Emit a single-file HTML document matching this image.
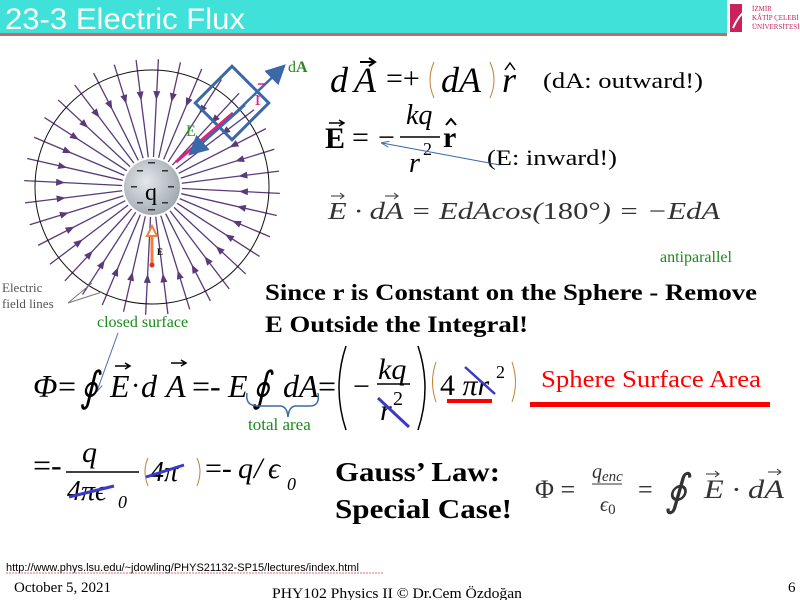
<!DOCTYPE html>
<html><head><meta charset="utf-8"><style>
html,body{margin:0;padding:0;background:#fff;width:800px;height:600px;overflow:hidden}
svg{display:block}
.s{font-family:"Liberation Serif",serif}
.a{font-family:"Liberation Sans",sans-serif}
.i{font-style:italic}
</style></head><body>
<svg id="sv" width="800" height="600" viewBox="0 0 800 600" xmlns="http://www.w3.org/2000/svg">
<defs>
<radialGradient id="g" cx="0.4" cy="0.4" r="0.7"><stop offset="0" stop-color="#e4e8ec"/><stop offset="1" stop-color="#9aa2aa"/></radialGradient>
<marker id="ab" markerWidth="8" markerHeight="8" refX="7" refY="4" orient="auto"><path d="M0,0 L8,4 L0,8 z" fill="#3a68a8"/></marker>
<marker id="at" markerWidth="8" markerHeight="8" refX="7" refY="4" orient="auto"><path d="M0,1 L8,4 L0,7" fill="none" stroke="#4a6fa8"/></marker>
</defs>
<rect x="0" y="0" width="727" height="33" fill="#3fe1d8"/>
<rect x="0" y="33" width="727" height="3" fill="#c46a6a"/>
<text x="5" y="29" class="a" font-size="30" fill="#fff" textLength="240" lengthAdjust="spacingAndGlyphs">23-3  Electric Flux</text>
<rect x="727" y="0" width="73" height="36" fill="#fff"/>
<path d="M730,4 L742,4 L742,32 L730,32z" fill="#c8245a"/>
<path d="M733,28 Q738,16 748,8" stroke="#fff" stroke-width="2" fill="none"/>
<text x="752" y="11" class="s" font-size="7" fill="#c8245a">İZMİR</text>
<text x="752" y="20" class="s" font-size="7" fill="#c8245a">KÂTİP ÇELEBİ</text>
<text x="752" y="29" class="s" font-size="7" fill="#c8245a">ÜNİVERSİTESİ</text>
<g id="fl"></g>
<circle cx="152" cy="187" r="117" fill="none" stroke="#111" stroke-width="1"/>
<circle cx="152" cy="187" r="28" fill="url(#g)"/>
<g fill="#333"><rect x="148" y="162" width="7" height="1.5"/><rect x="137" y="170" width="6" height="1.5"/><rect x="162" y="170" width="6" height="1.5"/><rect x="131" y="186" width="6" height="1.5"/><rect x="168" y="186" width="6" height="1.5"/><rect x="137" y="202" width="6" height="1.5"/><rect x="162" y="202" width="6" height="1.5"/><rect x="148" y="209" width="7" height="1.5"/></g>
<text x="145" y="200" class="s" font-size="24">q</text>
<line x1="152" y1="265" x2="152" y2="232" stroke="#f08040" stroke-width="3"/>
<path d="M147,236 L152,226 L157,236z" fill="#fff" stroke="#f08040" stroke-width="2"/>
<circle cx="152" cy="265" r="2.5" fill="#e03020"/>
<text x="157" y="255" class="s" font-size="9" font-weight="bold">E</text>
<text x="2" y="292" class="s" font-size="13" fill="#555">Electric</text>
<text x="2" y="308" class="s" font-size="13" fill="#555">field lines</text>
<line x1="68" y1="303" x2="92" y2="283" stroke="#777"/>
<line x1="68" y1="303" x2="102" y2="292" stroke="#777"/>
<g transform="rotate(-45 232 103)"><rect x="206" y="77" width="52" height="52" fill="none" stroke="#3a68a8" stroke-width="3"/></g>
<line x1="176" y1="162" x2="233" y2="113" stroke="#e0207a" stroke-width="3"/>
<line x1="245" y1="105" x2="190" y2="154" stroke="#3a68a8" stroke-width="2.5" marker-end="url(#ab)"/>
<line x1="230" y1="118" x2="284" y2="66" stroke="#3a68a8" stroke-width="2.5" marker-end="url(#ab)"/>
<text x="288" y="72" class="s" font-size="16" fill="#2a8a20">d<tspan font-weight="bold">A</tspan></text>
<text x="255" y="105" class="s" font-size="22" fill="#e0207a">r</text>
<path d="M258,84 L266,84" stroke="#e0207a" stroke-width="1.5"/>
<text x="186" y="136" class="s" font-size="16" fill="#2a9a20">E</text>
<text x="97" y="327" class="s" font-size="16" fill="#1a8a1a">closed surface</text>
<line x1="118" y1="333" x2="97" y2="391" stroke="#4a6fa8" stroke-width="1" marker-end="url(#at)"/>
<!-- top eqs -->
<text x="330" y="92" class="s i" font-size="36">d</text>
<text x="354" y="92" class="s i" font-size="36">A</text>
<path d="M360,62 L374,62 M369,58 L375,62 L369,66" stroke="#000" stroke-width="2" fill="none"/>
<text x="386" y="88" class="s" font-size="30">=+</text>
<path d="M434,62 Q426,80 434,98 M490,62 Q498,80 490,98" stroke="#c08030" stroke-width="1" fill="none"/>
<text x="441" y="92" class="s i" font-size="36">dA</text>
<text x="502" y="92" class="s i" font-size="36">r</text>
<path d="M505,70 L510,63 L515,70" stroke="#000" stroke-width="1.5" fill="none"/>
<text x="543" y="88" class="s" font-size="22" textLength="160" lengthAdjust="spacingAndGlyphs">(dA: outward!)</text>
<text x="325" y="148" class="s" font-size="30" font-weight="bold">E</text>
<path d="M329,123 L343,123 M339,120 L344,123 L339,126" stroke="#000" stroke-width="1.5" fill="none"/>
<text x="352" y="147" class="s" font-size="30">=</text>
<text x="378" y="147" class="s" font-size="30">−</text>
<text x="406" y="124" class="s i" font-size="28">kq</text>
<line x1="400" y1="137" x2="440" y2="137" stroke="#000" stroke-width="1.5"/>
<text x="409" y="172" class="s i" font-size="28">r</text>
<text x="423" y="155" class="s" font-size="18">2</text>
<text x="443" y="147" class="s" font-size="30" font-weight="bold">r</text>
<path d="M446,125 L451,119 L456,125" stroke="#000" stroke-width="2" fill="none"/>
<text x="487" y="165" class="s" font-size="22" textLength="130" lengthAdjust="spacingAndGlyphs">(E: inward!)</text>
<line x1="500" y1="165" x2="382" y2="143" stroke="#3a68a8" stroke-width="1" marker-end="url(#at)"/>
<text x="328" y="219" class="s i" font-size="24" fill="#333" textLength="392" lengthAdjust="spacingAndGlyphs">E · dA = EdAcos(<tspan font-style="normal">180°</tspan>) = −EdA</text>
<path d="M331,196 L343,196 M340,193 L344,196 L340,199 M385,196 L397,196 M394,193 L398,196 L394,199" stroke="#333" stroke-width="1" fill="none"/>
<text x="660" y="262" class="s" font-size="16" fill="#1a8a1a">antiparallel</text>
<text x="265" y="300" class="s" font-size="23" font-weight="bold" textLength="492" lengthAdjust="spacingAndGlyphs">Since r is Constant on the Sphere - Remove</text>
<text x="265" y="332" class="s" font-size="23" font-weight="bold" textLength="263" lengthAdjust="spacingAndGlyphs">E Outside the Integral!</text>
<!-- flux row -->
<text x="33" y="397" class="s i" font-size="32">Φ</text>
<text x="58" y="397" class="s" font-size="32">=</text>
<text x="80" y="401" class="s i" font-size="42" textLength="18" lengthAdjust="spacingAndGlyphs">∮</text>
<text x="110" y="397" class="s i" font-size="32">E</text>
<text x="131" y="395" class="s" font-size="28">·</text>
<text x="141" y="397" class="s i" font-size="32">d</text>
<text x="166" y="397" class="s i" font-size="32">A</text>
<path d="M115,366 L129,366 M125,363 L130,366 L125,369 M171,363 L185,363 M181,360 L186,363 L181,366" stroke="#000" stroke-width="1.5" fill="none"/>
<text x="192" y="397" class="s" font-size="32">=-</text>
<text x="228" y="397" class="s i" font-size="32">E</text>
<text x="252" y="401" class="s i" font-size="42" textLength="18" lengthAdjust="spacingAndGlyphs">∮</text>
<text x="283" y="397" class="s i" font-size="32">dA</text>
<text x="318" y="397" class="s" font-size="32">=</text>
<path d="M247,393 Q245,406 258,406 L280,406 Q287,406 288,417 Q289,406 296,406 L310,406 Q320,406 318,393" stroke="#3a68a8" stroke-width="1.5" fill="none"/>
<text x="248" y="430" class="s" font-size="17" fill="#1a8a1a">total area</text>
<path d="M346,346 Q332,388 346,430" stroke="#000" stroke-width="1.5" fill="none"/>
<path d="M418,346 Q432,388 418,430" stroke="#000" stroke-width="1.5" fill="none"/>
<text x="353" y="396" class="s" font-size="30">−</text>
<text x="378" y="379" class="s i" font-size="30">kq</text>
<line x1="377" y1="384" x2="410" y2="384" stroke="#000" stroke-width="1.5"/>
<text x="380" y="420" class="s i" font-size="30">r</text>
<text x="393" y="405" class="s" font-size="20">2</text>
<line x1="378" y1="398" x2="409" y2="427" stroke="#3a3ac8" stroke-width="3"/>
<path d="M436,362 Q429,382 436,402 M512,362 Q519,382 512,402" stroke="#c08030" stroke-width="1" fill="none"/>
<text x="440" y="395" class="s" font-size="30">4 <tspan class="i">πr</tspan></text>
<text x="496" y="378" class="s" font-size="18">2</text>
<line x1="465" y1="367" x2="495" y2="394" stroke="#3a3ac8" stroke-width="2.5"/>
<rect x="447" y="399" width="45" height="4" fill="#f00"/>
<text x="541" y="387" class="s" font-size="24" fill="#f00" textLength="220" lengthAdjust="spacingAndGlyphs">Sphere Surface Area</text>
<rect x="530" y="402" width="240" height="5" fill="#f00"/>
<!-- row 2 -->
<text x="33" y="476" class="s" font-size="32">=-</text>
<text x="82" y="462" class="s i" font-size="30">q</text>
<line x1="66" y1="472" x2="139" y2="472" stroke="#000" stroke-width="1.5"/>
<text x="67" y="500" class="s i" font-size="28">4πϵ</text>
<text x="118" y="508" class="s i" font-size="18">0</text>
<line x1="69" y1="497" x2="114" y2="486" stroke="#3a3ac8" stroke-width="3"/>
<path d="M148,458 Q142,471 148,486 M197,458 Q203,471 197,486" stroke="#c08030" stroke-width="1" fill="none"/>
<text x="150" y="481" class="s i" font-size="28">4π</text>
<line x1="146" y1="477" x2="184" y2="465" stroke="#3a3ac8" stroke-width="3"/>
<text x="205" y="478" class="s" font-size="30">=-</text>
<text x="238" y="478" class="s i" font-size="30">q</text>
<text x="254" y="478" class="s i" font-size="30">/</text>
<text x="268" y="478" class="s i" font-size="30">ϵ</text>
<text x="287" y="490" class="s i" font-size="18">0</text>
<text x="335" y="481" class="s" font-size="27" font-weight="bold" textLength="165" lengthAdjust="spacingAndGlyphs">Gauss’ Law:</text>
<text x="335" y="518" class="s" font-size="27" font-weight="bold" textLength="177" lengthAdjust="spacingAndGlyphs">Special Case!</text>
<text x="535" y="498" class="s" font-size="26" fill="#333">Φ =</text>
<text x="592" y="478" class="s i" font-size="20" fill="#333">q<tspan font-size="15" dy="3">enc</tspan></text>
<line x1="592" y1="484" x2="622" y2="484" stroke="#333" stroke-width="1"/>
<text x="600" y="511" class="s i" font-size="20" fill="#333">ϵ<tspan font-size="15" font-style="normal" dy="3">0</tspan></text>
<text x="638" y="498" class="s" font-size="26" fill="#333">=</text>
<text x="665" y="505" class="s i" font-size="44" fill="#333" textLength="22" lengthAdjust="spacingAndGlyphs">∮</text>
<text x="704" y="498" class="s i" font-size="26" fill="#333" textLength="80" lengthAdjust="spacingAndGlyphs">E · dA</text>
<path d="M706,474 L718,474 M715,471 L719,474 L715,477 M768,472 L780,472 M777,469 L781,472 L777,475" stroke="#333" stroke-width="1" fill="none"/>
<text x="6" y="571" class="a" font-size="11">http://www.phys.lsu.edu/~jdowling/PHYS21132-SP15/lectures/index.html</text>
<line x1="6" y1="573" x2="383" y2="573" stroke="#e04040" stroke-width="0.8" stroke-dasharray="2,1"/>
<text x="14" y="592" class="s" font-size="15">October 5, 2021</text>
<text x="272" y="598" class="s" font-size="15" textLength="250" lengthAdjust="spacingAndGlyphs">PHY102 Physics II © Dr.Cem Özdoğan</text>
<text x="788" y="592" class="s" font-size="15">6</text>
</svg>
<script>
var g=document.getElementById('fl'),cx=152,cy=187,N=36,h='';
for(var k=0;k<N;k++){var a=k*2*Math.PI/N+0.05,c=Math.cos(a),s=Math.sin(a);
var x1=cx+30*c,y1=cy+30*s,x2=cx+128*c,y2=cy+128*s;
h+='<line x1="'+x1+'" y1="'+y1+'" x2="'+x2+'" y2="'+y2+'" stroke="#5a3a78" stroke-width="1.3"/>';
var r=92,px=cx+r*c,py=cy+r*s,tx=-c,ty=-s,nx=-s,ny=c;
h+='<path d="M'+(px+tx*5)+','+(py+ty*5)+' L'+(px-tx*4+nx*3.5)+','+(py-ty*4+ny*3.5)+' L'+(px-tx*4-nx*3.5)+','+(py-ty*4-ny*3.5)+'z" fill="#5a3a78"/>';}
g.innerHTML=h;
</script>
</body></html>
